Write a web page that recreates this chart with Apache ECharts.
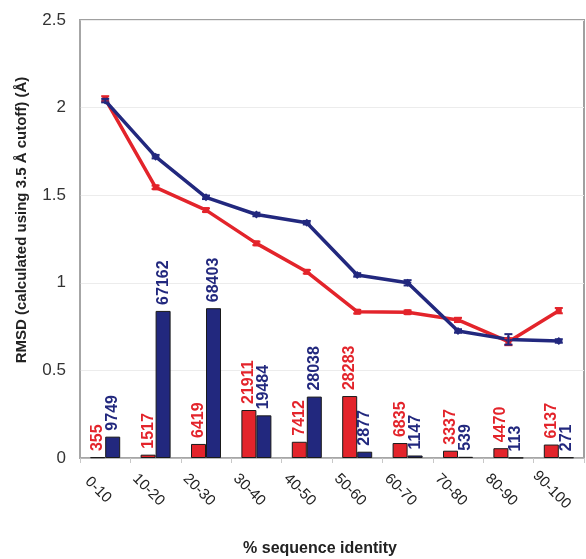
<!DOCTYPE html>
<html>
<head>
<meta charset="utf-8">
<script src="https://cdn.jsdelivr.net/npm/echarts@6/dist/echarts.min.js"></script>
<style>html,body{margin:0;padding:0;background:#fff}#c{width:586px;height:559px}</style>
</head>
<body>
<div id="c"></div>
<script>
var categories = ['0-10','10-20','20-30','30-40','40-50','50-60','60-70','70-80','80-90','90-100'];
var redCounts = [355, 1517, 6419, 21911, 7412, 28283, 6835, 3337, 4470, 6137];
var blueCounts = [9749, 67162, 68403, 19484, 28038, 2877, 1147, 539, 113, 271];
var redRmsd = [2.05, 1.545, 1.415, 1.225, 1.063, 0.835, 0.832, 0.788, 0.664, 0.841];
var blueRmsd = [2.04, 1.72, 1.488, 1.39, 1.343, 1.045, 1.0, 0.725, 0.677, 0.668];
var redErr = [0.015, 0.01, 0.01, 0.01, 0.01, 0.01, 0.01, 0.012, 0.02, 0.015];
var blueErr = [0.01, 0.01, 0.01, 0.01, 0.01, 0.01, 0.015, 0.01, 0.03, 0.01];
var yTicks = [0, 0.5, 1, 1.5, 2, 2.5];

var RED = '#e3242b', BLUE = '#22287e';
var FONT = 'Liberation Sans, Arial, sans-serif';

function errSeries(vals, errs, color) {
  return {
    type: 'custom', yAxisIndex: 0, z: 4, silent: true,
    data: vals.map(function (v, i) { return [i, v, errs[i]]; }),
    renderItem: function (params, api) {
      var i = api.value(0), v = api.value(1), e = api.value(2);
      var hi = api.coord([i, v + e]), lo = api.coord([i, v - e]);
      var w = 4;
      var st = { stroke: color, lineWidth: 2 };
      return { type: 'group', children: [
        { type: 'line', shape: { x1: hi[0], y1: hi[1], x2: lo[0], y2: lo[1] }, style: st },
        { type: 'line', shape: { x1: hi[0]-w, y1: hi[1], x2: hi[0]+w, y2: hi[1] }, style: st },
        { type: 'line', shape: { x1: lo[0]-w, y1: lo[1], x2: lo[0]+w, y2: lo[1] }, style: st }
      ]};
    }
  };
}

function barLabel(color) {
  return { show: true, position: 'top', rotate: 90, align: 'left', verticalAlign: 'middle',
    distance: 6, color: color, fontFamily: FONT, fontWeight: 'bold', fontSize: 16 };
}

var chart = echarts.init(document.getElementById('c'), null, { renderer: 'canvas' });
chart.setOption({
  animation: false,
  backgroundColor: '#fff',
  grid: { left: 80, right: 2, top: 20, bottom: 101, show: true, borderColor: '#a0a0a0', borderWidth: 2, backgroundColor: 'transparent' },
  xAxis: {
    type: 'category', data: categories, boundaryGap: true,
    axisLine: { lineStyle: { color: '#a8a8a8', width: 1.5 } },
    axisTick: { show: true, length: 5, lineStyle: { color: '#c8c8c8' } },
    axisLabel: { rotate: -45, align: 'center', verticalAlign: 'middle', margin: 39, padding: [0, 20, 0, 0],
      color: '#222', fontFamily: FONT, fontSize: 15, interval: 0 }
  },
  yAxis: [{
    type: 'value', min: 0, max: 2.5, interval: 0.5,
    axisLine: { show: true, lineStyle: { color: '#a8a8a8', width: 1.5 } },
    axisTick: { show: false },
    splitLine: { lineStyle: { color: '#ececec' } },
    axisLabel: { margin: 14, color: '#333', fontFamily: FONT, fontSize: 17,
      formatter: function (v) { return yTicks.indexOf(v) >= 0 ? String(v) : ''; } }
  }, {
    type: 'value', min: 0, max: 200000, show: false, splitLine: { show: false }
  }],
  graphic: [
    { type: 'text', x: 22, y: 220, rotation: Math.PI / 2,
      style: { text: 'RMSD (calculated using 3.5 Å cutoff) (Å)', fill: '#222', font: 'bold 15px ' + FONT, textAlign: 'center', textVerticalAlign: 'middle' } },
    { type: 'text', x: 320, y: 549,
      style: { text: '% sequence identity', fill: '#222', font: 'bold 16px ' + FONT, textAlign: 'center', textVerticalAlign: 'middle' } }
  ],
  series: [
    { type: 'bar', yAxisIndex: 1, data: redCounts, barWidth: 15, barGap: '0%',
      itemStyle: { color: RED, borderColor: '#1a1a1a', borderWidth: 1 }, label: barLabel(RED) },
    { type: 'bar', yAxisIndex: 1, data: blueCounts, barWidth: 15, barGap: '0%',
      itemStyle: { color: BLUE, borderColor: '#1a1a1a', borderWidth: 1 }, label: barLabel(BLUE) },
    { type: 'line', yAxisIndex: 0, data: redRmsd, z: 3, symbol: 'rect', symbolSize: 6,
      lineStyle: { color: RED, width: 3.5 }, itemStyle: { color: RED } },
    { type: 'line', yAxisIndex: 0, data: blueRmsd, z: 3, symbol: 'diamond', symbolSize: 8,
      lineStyle: { color: BLUE, width: 3.5 }, itemStyle: { color: BLUE } },
    errSeries(redRmsd, redErr, RED),
    errSeries(blueRmsd, blueErr, BLUE)
  ]
});
</script>
</body>
</html>
